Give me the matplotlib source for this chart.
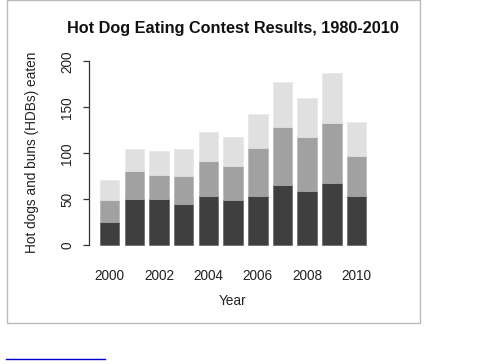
import matplotlib
matplotlib.use("Agg")
import matplotlib.pyplot as plt
from matplotlib.patches import Rectangle
from matplotlib.lines import Line2D

years = [2000, 2001, 2002, 2003, 2004, 2005, 2006, 2007, 2008, 2009, 2010]
first_place = [25, 50, 50.5, 44.5, 53.5, 49, 54, 66, 59, 68, 54]
second_place = [24, 31, 26, 30.5, 38, 37, 52, 63, 59, 64.5, 43]
third_place = [22, 23.5, 25.5, 29.5, 32, 32, 37, 49, 42, 55, 37]
xtick_years = [2000, 2002, 2004, 2006, 2008, 2010]
yticks = [0, 50, 100, 150, 200]

plt.rcParams['font.family'] = ['Liberation Sans', 'DejaVu Sans']

W, H = 504, 364
fig = plt.figure(figsize=(W / 100, H / 100), dpi=100)

# axes placement in pixels
ax_left, ax_right = 89, 385
y0_px, y200_px = 245.3, 61.3
ax = fig.add_axes([ax_left / W, 1 - y0_px / H, (ax_right - ax_left) / W, (y0_px - y200_px) / H])

px_per_year = 24.68
xmin = 2000 - (109.7 - ax_left) / px_per_year
xmax = xmin + (ax_right - ax_left) / px_per_year
ax.set_xlim(xmin, xmax)
ax.set_ylim(0, 200)

c1, c2, c3 = '#3f3f3f', '#a1a1a1', '#e0e0e0'
bw = 0.79
bottom2 = [a for a in first_place]
bottom3 = [a + b for a, b in zip(first_place, second_place)]
ax.bar(years, first_place, width=bw, color=c1, edgecolor='#555555', linewidth=0.4, clip_on=False)
ax.bar(years, second_place, width=bw, bottom=bottom2, color=c2, edgecolor='#b0b0b0', linewidth=0.4, clip_on=False)
ax.bar(years, third_place, width=bw, bottom=bottom3, color=c3, edgecolor='#e6e6e6', linewidth=0.4, clip_on=False)

for s in ['top', 'right', 'bottom']:
    ax.spines[s].set_visible(False)
ax.spines['left'].set_color('#333333')
ax.spines['left'].set_linewidth(0.9)

ax.set_yticks(yticks)
ax.set_yticklabels([str(v) for v in yticks], rotation=90, va='center', fontsize=9.8, color='#222222')
ax.tick_params(axis='y', length=4.5, width=0.9, color='#333333', pad=6)
ax.set_xticks(xtick_years)
ax.set_xticklabels([str(v) for v in xtick_years], fontsize=9.8, color='#222222')
ax.tick_params(axis='x', length=0, pad=17)

fig.text(233 / W, 1 - 29 / H, 'Hot Dog Eating Contest Results, 1980-2010',
         ha='center', va='center', fontsize=11.7, fontweight='bold', color='#111111')
fig.text(233 / W, 1 - 301 / H, 'Year', ha='center', va='center', fontsize=9.8, color='#222222')
fig.text(32 / W, 1 - 152 / H, 'Hot dogs and buns (HDBs) eaten', ha='center', va='center',
         rotation=90, fontsize=9.8, color='#222222')

# outer border and link underline
fig.patches.append(Rectangle((6.5 / W, 1 - 322.7 / H), (420 - 6.5) / W, 322.7 / H,
                             transform=fig.transFigure, fill=False, edgecolor='#bbbbbb', linewidth=1.0))
fig.lines.append(Line2D([6 / W, 105 / W], [1 - 359.3 / H, 1 - 359.3 / H],
                        transform=fig.transFigure, color='#0000cc', linewidth=1.0))

fig.savefig('out.png', dpi=100)
